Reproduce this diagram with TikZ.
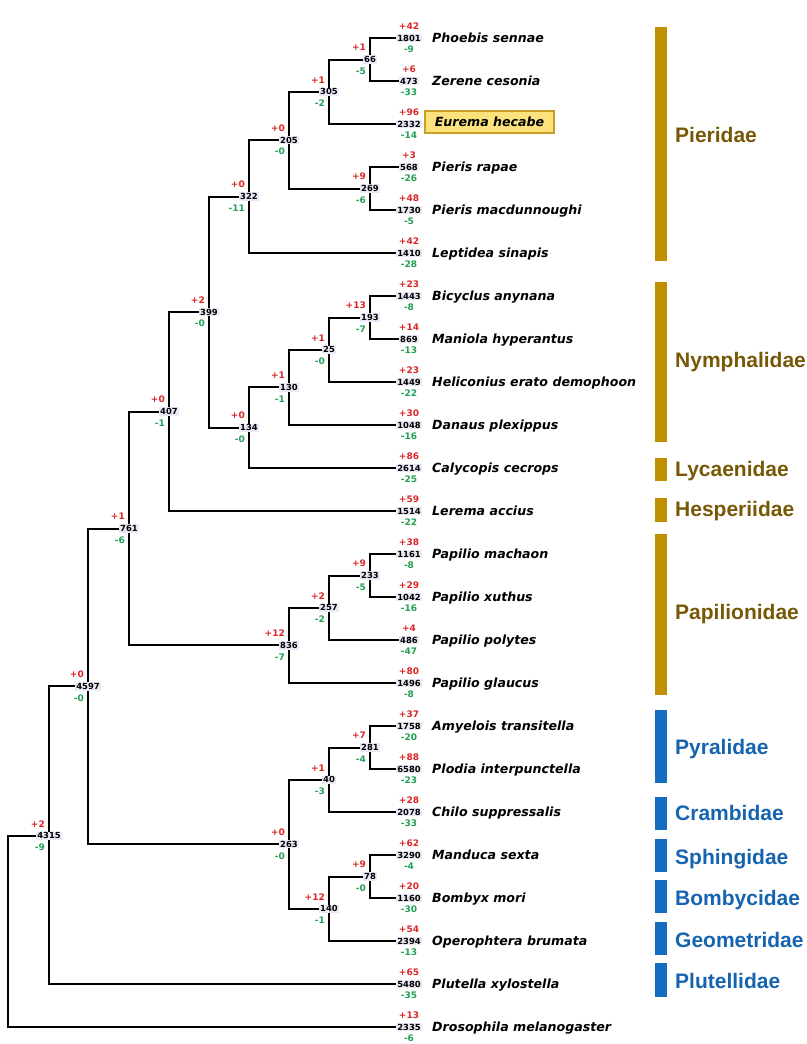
\documentclass[tikz,border=0pt]{standalone}
\usepackage{fontspec}
\setmainfont{DejaVu Sans}
\newfontfamily\famfont{Liberation Sans}
\usetikzlibrary{backgrounds}
\definecolor{lav}{RGB}{234,234,246}
\definecolor{gainred}{RGB}{218,38,38}
\definecolor{lossgreen}{RGB}{32,160,82}
\definecolor{goldbar}{RGB}{192,144,0}
\definecolor{goldtext}{RGB}{118,88,6}
\definecolor{bluebar}{RGB}{22,108,192}
\definecolor{bluetext}{RGB}{22,100,176}
\definecolor{eurfill}{RGB}{251,226,124}
\definecolor{eurdraw}{RGB}{200,158,40}
\newcommand\leafnode[6]{%
  \node[cnt] (#1) at (409,#2) {#3};
  \node[gain] (#1p) at (409,#2-11.5) {+#4};
  \node[loss] (#1m) at (409,#2+11.5) {-#5};
  \node[sp] (#1s) at (432,#2+4.6) {#6};
}
\newcommand\inode[6]{%
  \node[cnt] (#1) at (#2,#3) {#4};
  \node[gain,anchor=east] (#1p) at (#2-4,#3-12) {+#5};
  \node[loss,anchor=east] (#1m) at (#2-4,#3+11.5) {-#6};
}
\newcommand\kids[3]{\draw[edge] (#2.center) -| (#1.center) |- (#3.center);}
\begin{document}
\begin{tikzpicture}[x=1pt,y=-1pt,
  cnt/.style={fill=lav,inner xsep=1.2pt,inner ysep=1pt,font=\fontsize{8.4}{9}\selectfont\bfseries,text=black},
  gain/.style={text=gainred,inner sep=0pt,font=\fontsize{9}{10}\selectfont\bfseries},
  loss/.style={text=lossgreen,inner sep=0pt,font=\fontsize{9}{10}\selectfont\bfseries},
  sp/.style={anchor=base west,inner sep=0pt,font=\fontsize{12.6}{14}\selectfont\bfseries\itshape},
  eurbox/.style={draw=eurdraw,fill=eurfill,line width=1.2pt,minimum width=129pt,minimum height=22pt,inner sep=0pt,font=\fontsize{12.6}{14}\selectfont\bfseries\itshape},
  edge/.style={line width=2pt,black},
  fam/.style={anchor=base west,inner sep=0pt,font=\famfont\bfseries\fontsize{21}{24}\selectfont}]
\useasboundingbox (0,0) rectangle (806,1044);
% leaves
\leafnode{pho}{38}{1801}{42}{9}{Phoebis sennae}
\leafnode{zer}{81}{473}{6}{33}{Zerene cesonia}
\node[cnt] (eur) at (409,124) {2332};
\node[gain] (eurp) at (409,112.5) {+96};
\node[loss] (eurm) at (409,135.5) {-14};
\node[eurbox] (eurs) at (489.5,122) {Eurema hecabe};
\leafnode{pra}{167}{568}{3}{26}{Pieris rapae}
\leafnode{pma}{210}{1730}{48}{5}{Pieris macdunnoughi}
\leafnode{lep}{253}{1410}{42}{28}{Leptidea sinapis}
\leafnode{bic}{296}{1443}{23}{8}{Bicyclus anynana}
\leafnode{man}{339}{869}{14}{13}{Maniola hyperantus}
\leafnode{hel}{382}{1449}{23}{22}{Heliconius erato demophoon}
\leafnode{dan}{425}{1048}{30}{16}{Danaus plexippus}
\leafnode{cal}{468}{2614}{86}{25}{Calycopis cecrops}
\leafnode{ler}{511}{1514}{59}{22}{Lerema accius}
\leafnode{pmc}{554}{1161}{38}{8}{Papilio machaon}
\leafnode{pxu}{597}{1042}{29}{16}{Papilio xuthus}
\leafnode{ppo}{640}{486}{4}{47}{Papilio polytes}
\leafnode{pgl}{683}{1496}{80}{8}{Papilio glaucus}
\leafnode{amy}{726}{1758}{37}{20}{Amyelois transitella}
\leafnode{plo}{769}{6580}{88}{23}{Plodia interpunctella}
\leafnode{chi}{812}{2078}{28}{33}{Chilo suppressalis}
\leafnode{mds}{855}{3290}{62}{4}{Manduca sexta}
\leafnode{bom}{898}{1160}{20}{30}{Bombyx mori}
\leafnode{ope}{941}{2394}{54}{13}{Operophtera brumata}
\leafnode{plu}{984}{5480}{65}{35}{Plutella xylostella}
\leafnode{dro}{1027}{2335}{13}{6}{Drosophila melanogaster}
% internal nodes
\inode{n66}{370}{59.5}{66}{1}{5}
\inode{n305}{329}{91.75}{305}{1}{2}
\inode{n269}{370}{188.5}{269}{9}{6}
\inode{n205}{289}{140.1}{205}{0}{0}
\inode{n322}{249}{196.6}{322}{0}{11}
\inode{n193}{370}{317.5}{193}{13}{7}
\inode{n25}{329}{349.75}{25}{1}{0}
\inode{n130}{289}{387.4}{130}{1}{1}
\inode{n134}{249}{427.7}{134}{0}{0}
\inode{n399}{209}{312.1}{399}{2}{0}
\inode{n407}{169}{411.6}{407}{0}{1}
\inode{n233}{370}{575.5}{233}{9}{5}
\inode{n257}{329}{607.75}{257}{2}{2}
\inode{n836}{289}{645.4}{836}{12}{7}
\inode{n761}{129}{528.5}{761}{1}{6}
\inode{n281}{370}{747.5}{281}{7}{4}
\inode{n40}{329}{779.75}{40}{1}{3}
\inode{n78}{370}{876.5}{78}{9}{0}
\inode{n140}{329}{908.75}{140}{12}{1}
\inode{n263}{289}{844.25}{263}{0}{0}
\inode{n4597}{88}{686.4}{4597}{0}{0}
\inode{n4315}{49}{835.7}{4315}{2}{9}
\coordinate (root) at (8,931.4);
% connectors
\begin{pgfonlayer}{background}
\kids{root}{n4315}{dro}
\kids{n4315}{n4597}{plu}
\kids{n4597}{n761}{n263}
\kids{n761}{n407}{n836}
\kids{n407}{n399}{ler}
\kids{n399}{n322}{n134}
\kids{n322}{n205}{lep}
\kids{n205}{n305}{n269}
\kids{n305}{n66}{eur}
\kids{n66}{pho}{zer}
\kids{n269}{pra}{pma}
\kids{n134}{n130}{cal}
\kids{n130}{n25}{dan}
\kids{n25}{n193}{hel}
\kids{n193}{bic}{man}
\kids{n836}{n257}{pgl}
\kids{n257}{n233}{ppo}
\kids{n233}{pmc}{pxu}
\kids{n263}{n40}{n140}
\kids{n40}{n281}{chi}
\kids{n281}{amy}{plo}
\kids{n140}{n78}{ope}
\kids{n78}{mds}{bom}
\end{pgfonlayer}
% family bars
\fill[goldbar] (655,27) rectangle (667,261);
\fill[goldbar] (655,282) rectangle (667,442);
\fill[goldbar] (655,458) rectangle (667,481);
\fill[goldbar] (655,498) rectangle (667,522);
\fill[goldbar] (655,534) rectangle (667,695);
\fill[bluebar] (655,710) rectangle (667,783);
\fill[bluebar] (655,797) rectangle (667,830);
\fill[bluebar] (655,839) rectangle (667,872);
\fill[bluebar] (655,880) rectangle (667,913);
\fill[bluebar] (655,922) rectangle (667,955);
\fill[bluebar] (655,963) rectangle (667,997);
% family labels
\node[fam,text=goldtext] (fpie) at (675,142.5) {Pieridae};
\node[fam,text=goldtext] (fnym) at (675,367.5) {Nymphalidae};
\node[fam,text=goldtext] (flyc) at (675,476.5) {Lycaenidae};
\node[fam,text=goldtext] (fhes) at (675,516.5) {Hesperiidae};
\node[fam,text=goldtext] (fpap) at (675,619.5) {Papilionidae};
\node[fam,text=bluetext] (fpyr) at (675,754.5) {Pyralidae};
\node[fam,text=bluetext] (fcra) at (675,820.5) {Crambidae};
\node[fam,text=bluetext] (fsph) at (675,864.5) {Sphingidae};
\node[fam,text=bluetext] (fbom) at (675,905.5) {Bombycidae};
\node[fam,text=bluetext] (fgeo) at (675,947.5) {Geometridae};
\node[fam,text=bluetext] (fplu) at (675,988.5) {Plutellidae};
\end{tikzpicture}
\end{document}
